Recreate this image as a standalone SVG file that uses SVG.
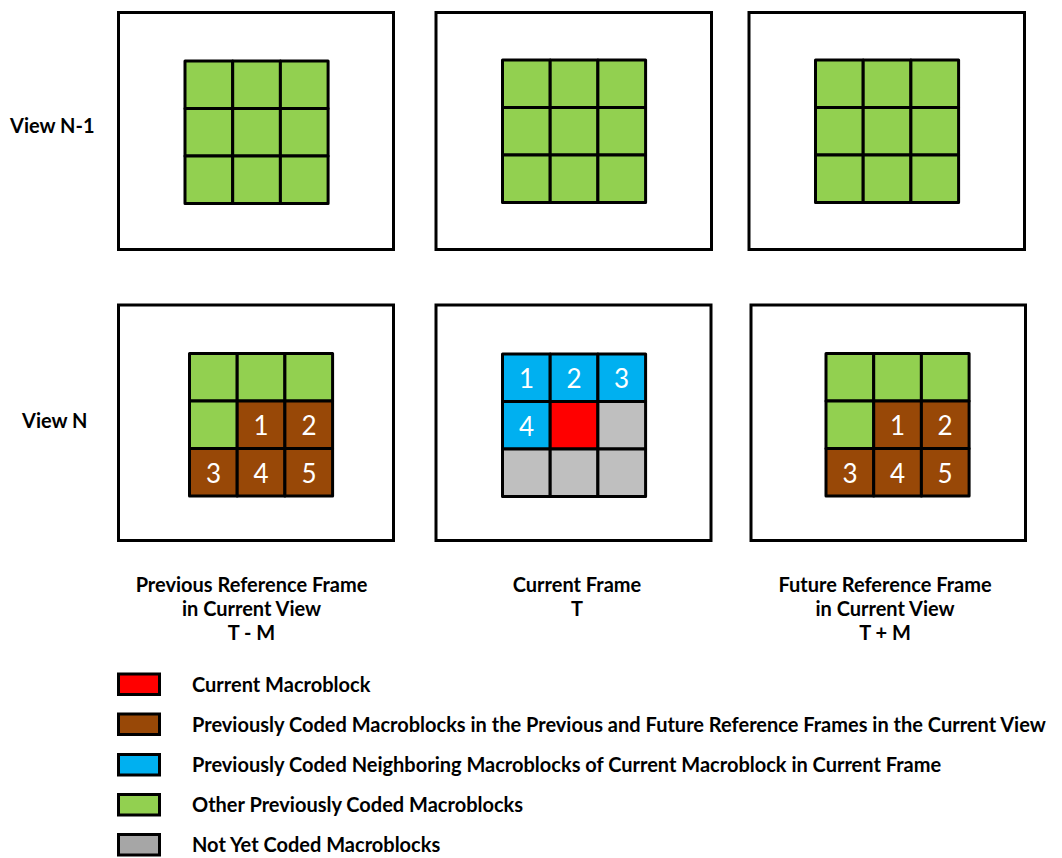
<svg xmlns="http://www.w3.org/2000/svg" width="1062" height="858" viewBox="0 0 1062 858">
<style>
.frame{fill:#fff;stroke:#000;stroke-width:3}
.c{stroke:#000;stroke-width:3;stroke-linejoin:round}
.g{fill:#92D050}.b{fill:#984807}.u{fill:#00B0F0}.r{fill:#FF0000}.y{fill:#BFBFBF}.ly{fill:#A6A6A6}
.lab{font-family:Lato,"Liberation Sans",sans-serif;font-weight:bold;font-size:20px;fill:#000}
.cap{font-family:Lato,"Liberation Sans",sans-serif;font-weight:bold;font-size:20px;fill:#000;text-anchor:middle}
.num{font-family:Lato,"Liberation Sans",sans-serif;font-size:26px;fill:#fff;text-anchor:middle}
.lg{stroke:#000;stroke-width:3}
</style>
<rect width="1062" height="858" fill="#fff"/>
<text class="lab" x="10" y="133">View N-1</text>
<text class="lab" x="22" y="428">View N</text>

<g id="frame-top-left">
<rect class="frame" x="118.5" y="12.5" width="275" height="237"/>
<rect class="c g" x="185" y="61" width="47.7" height="47.5"/><rect class="c g" x="232.7" y="61" width="47.7" height="47.5"/><rect class="c g" x="280.4" y="61" width="47.7" height="47.5"/>
<rect class="c g" x="185" y="108.5" width="47.7" height="47.5"/><rect class="c g" x="232.7" y="108.5" width="47.7" height="47.5"/><rect class="c g" x="280.4" y="108.5" width="47.7" height="47.5"/>
<rect class="c g" x="185" y="156" width="47.7" height="47.5"/><rect class="c g" x="232.7" y="156" width="47.7" height="47.5"/><rect class="c g" x="280.4" y="156" width="47.7" height="47.5"/>
</g>

<g id="frame-top-middle">
<rect class="frame" x="436" y="12.5" width="275.5" height="237"/>
<rect class="c g" x="502.5" y="60" width="47.7" height="47.5"/><rect class="c g" x="550.2" y="60" width="47.7" height="47.5"/><rect class="c g" x="597.9" y="60" width="47.7" height="47.5"/>
<rect class="c g" x="502.5" y="107.5" width="47.7" height="47.5"/><rect class="c g" x="550.2" y="107.5" width="47.7" height="47.5"/><rect class="c g" x="597.9" y="107.5" width="47.7" height="47.5"/>
<rect class="c g" x="502.5" y="155" width="47.7" height="47.5"/><rect class="c g" x="550.2" y="155" width="47.7" height="47.5"/><rect class="c g" x="597.9" y="155" width="47.7" height="47.5"/>
</g>

<g id="frame-top-right">
<rect class="frame" x="749" y="12.5" width="275.5" height="237"/>
<rect class="c g" x="815.5" y="60" width="47.7" height="47.5"/><rect class="c g" x="863.2" y="60" width="47.7" height="47.5"/><rect class="c g" x="910.9" y="60" width="47.7" height="47.5"/>
<rect class="c g" x="815.5" y="107.5" width="47.7" height="47.5"/><rect class="c g" x="863.2" y="107.5" width="47.7" height="47.5"/><rect class="c g" x="910.9" y="107.5" width="47.7" height="47.5"/>
<rect class="c g" x="815.5" y="155" width="47.7" height="47.5"/><rect class="c g" x="863.2" y="155" width="47.7" height="47.5"/><rect class="c g" x="910.9" y="155" width="47.7" height="47.5"/>
</g>

<g id="frame-bottom-left">
<rect class="frame" x="118.5" y="305" width="275" height="235.5"/>
<rect class="c g" x="189.5" y="353.5" width="47.7" height="47.5"/><rect class="c g" x="237.2" y="353.5" width="47.7" height="47.5"/><rect class="c g" x="284.9" y="353.5" width="47.7" height="47.5"/>
<rect class="c g" x="189.5" y="401" width="47.7" height="47.5"/><rect class="c b" x="237.2" y="401" width="47.7" height="47.5"/><rect class="c b" x="284.9" y="401" width="47.7" height="47.5"/>
<rect class="c b" x="189.5" y="448.5" width="47.7" height="47.5"/><rect class="c b" x="237.2" y="448.5" width="47.7" height="47.5"/><rect class="c b" x="284.9" y="448.5" width="47.7" height="47.5"/>
<text class="num" x="261" y="435">1</text><text class="num" x="309" y="435">2</text>
<text class="num" x="213.5" y="483">3</text><text class="num" x="261" y="483">4</text><text class="num" x="309" y="483">5</text>
</g>

<g id="frame-bottom-middle">
<rect class="frame" x="436" y="305" width="275" height="235.5"/>
<rect class="c u" x="502.5" y="354" width="47.7" height="47.5"/><rect class="c u" x="550.2" y="354" width="47.7" height="47.5"/><rect class="c u" x="597.9" y="354" width="47.7" height="47.5"/>
<rect class="c u" x="502.5" y="401.5" width="47.7" height="47.5"/><rect class="c r" x="550.2" y="401.5" width="47.7" height="47.5"/><rect class="c y" x="597.9" y="401.5" width="47.7" height="47.5"/>
<rect class="c y" x="502.5" y="449" width="47.7" height="47.5"/><rect class="c y" x="550.2" y="449" width="47.7" height="47.5"/><rect class="c y" x="597.9" y="449" width="47.7" height="47.5"/>
<text class="num" x="526.5" y="388">1</text><text class="num" x="574" y="388">2</text><text class="num" x="621.5" y="388">3</text>
<text class="num" x="526.5" y="435.5">4</text>
</g>

<g id="frame-bottom-right">
<rect class="frame" x="751" y="305" width="274.5" height="235.5"/>
<rect class="c g" x="826" y="353.5" width="47.7" height="47.5"/><rect class="c g" x="873.7" y="353.5" width="47.7" height="47.5"/><rect class="c g" x="921.4" y="353.5" width="47.7" height="47.5"/>
<rect class="c g" x="826" y="401" width="47.7" height="47.5"/><rect class="c b" x="873.7" y="401" width="47.7" height="47.5"/><rect class="c b" x="921.4" y="401" width="47.7" height="47.5"/>
<rect class="c b" x="826" y="448.5" width="47.7" height="47.5"/><rect class="c b" x="873.7" y="448.5" width="47.7" height="47.5"/><rect class="c b" x="921.4" y="448.5" width="47.7" height="47.5"/>
<text class="num" x="897.5" y="435">1</text><text class="num" x="945" y="435">2</text>
<text class="num" x="850" y="483">3</text><text class="num" x="897.5" y="483">4</text><text class="num" x="945" y="483">5</text>
</g>

<g id="captions">
<text class="cap" x="251.5" y="592">Previous Reference Frame</text>
<text class="cap" x="251.5" y="616">in Current View</text>
<text class="cap" x="251.5" y="640">T - M</text>
<text class="cap" x="577" y="592">Current Frame</text>
<text class="cap" x="577" y="616">T</text>
<text class="cap" x="885" y="592">Future Reference Frame</text>
<text class="cap" x="885" y="616">in Current View</text>
<text class="cap" x="885" y="640">T + M</text>
</g>

<g id="connectors"/>

<g id="legend">
<g id="legend-current"><rect class="lg r" x="118.5" y="674" width="41" height="20.5"/><text class="lab" x="192" y="692">Current Macroblock</text></g>
<g id="legend-prev-ref"><rect class="lg b" x="118.5" y="714" width="41" height="20.5"/><text class="lab" x="192" y="732">Previously Coded Macroblocks in the Previous and Future Reference Frames in the Current View</text></g>
<g id="legend-neighbor"><rect class="lg u" x="118.5" y="754.5" width="41" height="20.5"/><text class="lab" x="192" y="772">Previously Coded Neighboring Macroblocks of Current Macroblock in Current Frame</text></g>
<g id="legend-other"><rect class="lg g" x="118.5" y="794.5" width="41" height="20.5"/><text class="lab" x="192" y="812">Other Previously Coded Macroblocks</text></g>
<g id="legend-notyet"><rect class="lg ly" x="118.5" y="834.5" width="41" height="20.5"/><text class="lab" x="192" y="852">Not Yet Coded Macroblocks</text></g>
</g>
</svg>
